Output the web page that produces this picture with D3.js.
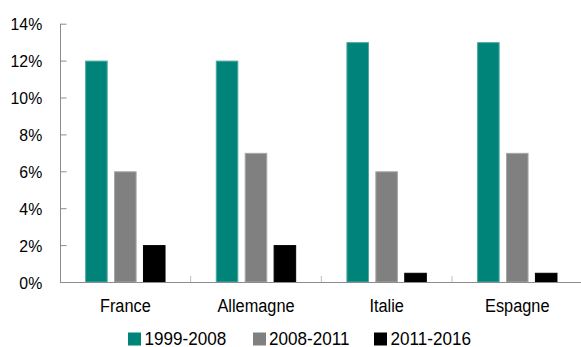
<!DOCTYPE html>
<html>
<head>
<meta charset="utf-8">
<script src="https://cdn.jsdelivr.net/npm/d3@7"></script>
<style>
  body { margin: 0; background: #fff; }
  svg text { font-family: "Liberation Sans", Arial, sans-serif; fill: #000; }
</style>
</head>
<body>
<script>
// data
var categories = ["France", "Allemagne", "Italie", "Espagne"];
var seriesNames = ["1999-2008", "2008-2011", "2011-2016"];
var v1999_2008 = [12, 12, 13, 13];
var v2008_2011 = [6, 7, 6, 7];
var v2011_2016 = [2, 2, 0.5, 0.5];
var yTicks = [0, 2, 4, 6, 8, 10, 12, 14];
var colors = ["#00847a", "#808080", "#000000"];
var strokes = ["#4fa89f", "#a6a6a6", "#000000"];

var seriesValues = [v1999_2008, v2008_2011, v2011_2016];

var width = 581, height = 347;

var svg = d3.select("body").append("svg")
  .attr("width", width)
  .attr("height", height);

// scales
var x0 = d3.scaleBand().domain(categories).range([60, 582.6]).padding(0);
var x1 = d3.scaleBand().domain(seriesNames).range([0, 80.4]).paddingInner(0.22).paddingOuter(0);
var y = d3.scaleLinear().domain([0, 14]).range([282, 23.7]);
var color = d3.scaleOrdinal().domain(seriesNames).range(colors);
var strokeColor = d3.scaleOrdinal().domain(seriesNames).range(strokes);

var groupOffset = (x0.bandwidth() - 80.4) / 2;

// bars
var groups = svg.selectAll(".cat")
  .data(categories)
  .enter().append("g")
  .attr("class", "cat")
  .attr("transform", function(d) { return "translate(" + (x0(d) + groupOffset) + ",0)"; });

groups.selectAll("rect")
  .data(function(d, i) {
    return seriesNames.map(function(s, j) { return {name: s, value: seriesValues[j][i]}; });
  })
  .enter().append("rect")
  .attr("x", function(d) { return x1(d.name) + 0.5; })
  .attr("y", function(d) { return y(d.value) + 0.5; })
  .attr("width", x1.bandwidth() - 1)
  .attr("height", function(d) { return y(0) - y(d.value) - 0.5; })
  .style("fill", function(d) { return color(d.name); })
  .style("stroke", function(d) { return strokeColor(d.name); })
  .style("stroke-width", 1);

// y axis
var ySq = 0.93;
var yAxis = svg.append("g")
  .attr("class", "y axis")
  .attr("transform", "translate(60.5,0)")
  .call(d3.axisRight(y).tickValues(yTicks).tickSize(6).tickFormat(function(d) { return d + "%"; }));
yAxis.select(".domain").attr("stroke", "#8c8c8c").attr("d", "M0," + y(14) + "V" + y(0));
yAxis.selectAll(".tick line").attr("stroke", "#8c8c8c");
yAxis.selectAll(".tick text")
  .attr("x", -18.3 / ySq)
  .attr("dy", "0.36em")
  .attr("transform", "scale(" + ySq + ",1)")
  .style("text-anchor", "end")
  .style("font-size", "17px");

// x axis
var xSq = 0.86;
var xAxis = svg.append("g")
  .attr("class", "x axis")
  .attr("transform", "translate(0," + y(0) + ")")
  .call(d3.axisBottom(x0).tickSize(0).tickPadding(0));
xAxis.select(".domain").attr("stroke", "#8c8c8c").attr("d", "M60,0.5H581");
xAxis.selectAll(".tick text")
  .attr("y", 30.5)
  .attr("dy", 0)
  .attr("transform", "scale(" + xSq + ",1)")
  .style("font-size", "19px");

// category separators
svg.selectAll(".sep")
  .data(categories.slice(1))
  .enter().append("line")
  .attr("class", "sep")
  .attr("x1", function(d) { return x0(d); })
  .attr("x2", function(d) { return x0(d); })
  .attr("y1", y(0) - 6)
  .attr("y2", y(0))
  .attr("stroke", "#bfbfbf");

// legend
var legendBox = [128, 253, 374];
var legendText = [144.5, 269, 390.5];
var lSq = 0.92;
var legend = svg.selectAll(".legend")
  .data(seriesNames)
  .enter().append("g")
  .attr("class", "legend");
legend.append("rect")
  .attr("x", function(d, i) { return legendBox[i]; })
  .attr("y", 332.5)
  .attr("width", 13)
  .attr("height", 13)
  .style("fill", color);
legend.append("text")
  .attr("transform", function(d, i) { return "translate(" + legendText[i] + ",345.3) scale(" + lSq + ",1)"; })
  .style("font-size", "18.6px")
  .text(function(d) { return d; });
</script>
</body>
</html>
